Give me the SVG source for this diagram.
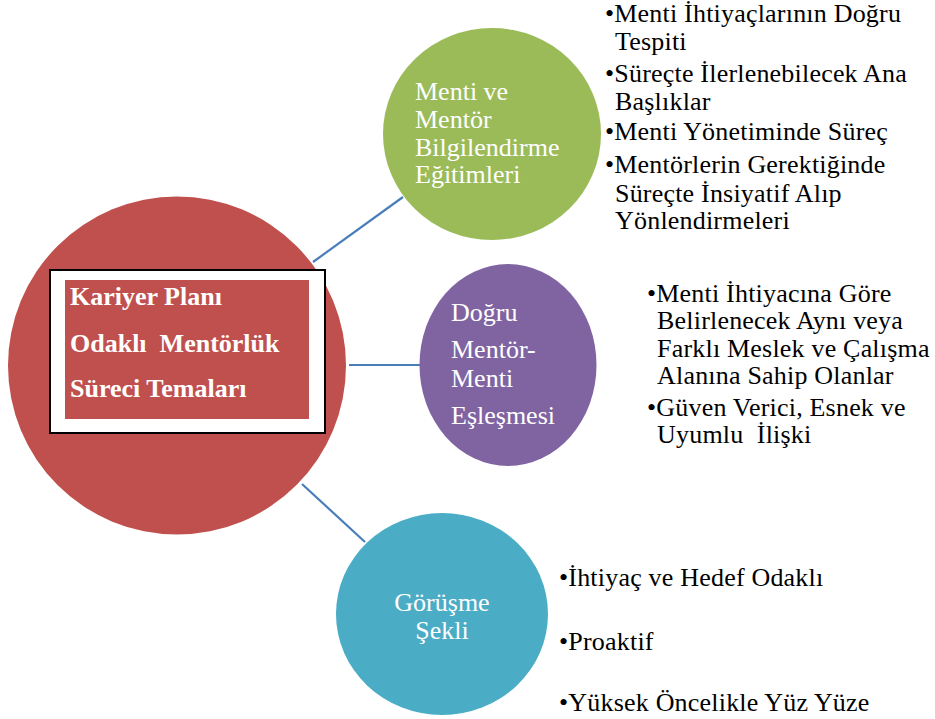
<svg xmlns="http://www.w3.org/2000/svg" width="935" height="719" viewBox="0 0 935 719">
<style>
  .t { font-family: "Liberation Serif", Tinos, "Times New Roman", Times, "Noto Serif", "DejaVu Serif", serif; font-size: 26px; }
  .w { fill: #ffffff; }
  .k { fill: #000000; letter-spacing: 0.2px; }
  .b { font-weight: bold; }
  .pre { white-space: pre; }
  .conn { stroke: #4A7EBB; stroke-width: 2.2; fill: none; }
</style>
<rect width="935" height="719" fill="#ffffff"/>

<g id="connectors">
  <line class="conn" x1="313" y1="262" x2="403" y2="197"/>
  <line class="conn" x1="349" y1="365" x2="420" y2="365"/>
  <line class="conn" x1="302" y1="484" x2="365" y2="542"/>
</g>

<g id="node-center">
  <circle cx="177" cy="365.5" r="169" fill="#C0504D"/>
  <rect x="50" y="270" width="275" height="163" fill="#ffffff" stroke="#000000" stroke-width="2"/>
  <rect x="65" y="280" width="244" height="139" fill="#C0504D"/>
  <text class="t w b" x="70" y="305">Kariyer Planı</text>
  <text class="t w b pre" x="70" y="352" xml:space="preserve">Odaklı  Mentörlük</text>
  <text class="t w b" x="70" y="397">Süreci Temaları</text>
</g>

<g id="node-green">
  <ellipse cx="492" cy="134" rx="109" ry="106" fill="#9BBB59"/>
  <text class="t w" x="415" y="100">Menti ve</text>
  <text class="t w" x="415" y="128">Mentör</text>
  <text class="t w" x="415" y="156">Bilgilendirme</text>
  <text class="t w" x="415" y="183">Eğitimleri</text>
</g>

<g id="list-green">
  <text class="t k" x="605" y="22">•Menti İhtiyaçlarının Doğru</text>
  <text class="t k" x="615" y="50">Tespiti</text>
  <text class="t k" x="605" y="82">•Süreçte İlerlenebilecek Ana</text>
  <text class="t k" x="615" y="110">Başlıklar</text>
  <text class="t k" x="605" y="140">•Menti Yönetiminde Süreç</text>
  <text class="t k" x="605" y="173">•Mentörlerin Gerektiğinde</text>
  <text class="t k" x="615" y="202">Süreçte İnsiyatif Alıp</text>
  <text class="t k" x="615" y="229">Yönlendirmeleri</text>
</g>

<g id="node-purple">
  <ellipse cx="508" cy="365" rx="88.5" ry="101" fill="#8064A2"/>
  <text class="t w" x="451" y="321">Doğru</text>
  <text class="t w" x="451" y="358">Mentör-</text>
  <text class="t w" x="451" y="387">Menti</text>
  <text class="t w" x="451" y="424">Eşleşmesi</text>
</g>

<g id="list-purple">
  <text class="t k" x="647" y="302">•Menti İhtiyacına Göre</text>
  <text class="t k" x="657" y="329">Belirlenecek Aynı veya</text>
  <text class="t k" x="657" y="357">Farklı Meslek ve Çalışma</text>
  <text class="t k" x="657" y="384">Alanına Sahip Olanlar</text>
  <text class="t k" x="647" y="416">•Güven Verici, Esnek ve</text>
  <text class="t k pre" x="657" y="443" xml:space="preserve">Uyumlu  İlişki</text>
</g>

<g id="node-teal">
  <ellipse cx="442" cy="614" rx="106" ry="101" fill="#4BACC6"/>
  <text class="t w" x="442" y="611" text-anchor="middle">Görüşme</text>
  <text class="t w" x="442" y="639" text-anchor="middle">Şekli</text>
</g>

<g id="list-teal">
  <text class="t k" x="559" y="586">•İhtiyaç ve Hedef Odaklı</text>
  <text class="t k" x="559" y="650">•Proaktif</text>
  <text class="t k" x="559" y="711">•Yüksek Öncelikle Yüz Yüze</text>
</g>
</svg>
